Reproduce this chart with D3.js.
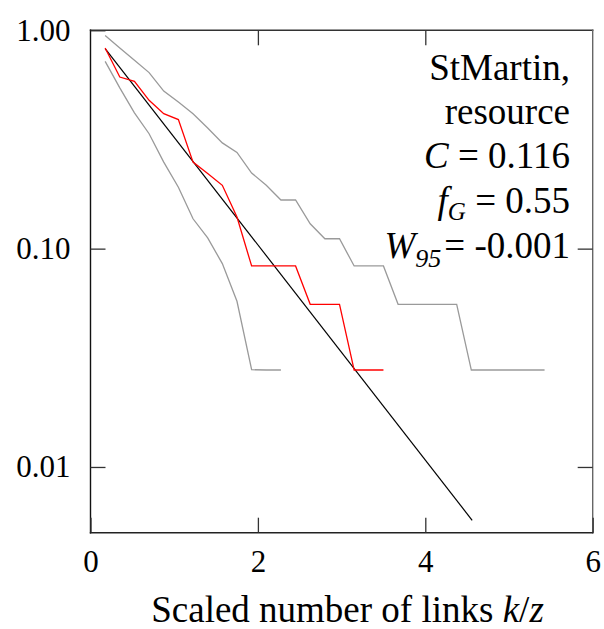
<!DOCTYPE html>
<html>
<head>
<meta charset="utf-8">
<script src="https://cdn.jsdelivr.net/npm/d3@7"></script>
</head>
<body style="margin:0;padding:0;background:#fff">
<svg id="chart" width="604" height="629" font-family="Liberation Serif"></svg>
<script>
// ---- data ----
const xTicks = [0, 2, 4, 6];
const yTicks = [0.01, 0.1, 1];

const upperX = [0.175,0.35,0.525,0.70,0.875,1.05,1.225,1.40,1.575,1.75,1.925,2.10,2.275,2.45,2.625,2.80,2.975,3.15,3.325,3.50,3.675,3.85,4.025,4.20,4.375,4.55,4.725,4.90,5.075,5.25,5.425];
const upperY = [0.946,0.83,0.73,0.640,0.527,0.469,0.415,0.357,0.305,0.276,0.222,0.195,0.167,0.167,0.13,0.111,0.111,0.0833,0.0833,0.0833,0.0556,0.0556,0.0556,0.0556,0.0556,0.0278,0.0278,0.0278,0.0278,0.0278,0.0278];

const lowerX = [0.175,0.35,0.525,0.70,0.875,1.05,1.225,1.40,1.575,1.75,1.925,2.10,2.275];
const lowerY = [0.721,0.545,0.419,0.336,0.249,0.191,0.137,0.112,0.0854,0.0574,0.0279,0.0278,0.0278];

const empX = [0.175,0.35,0.525,0.70,0.875,1.05,1.225,1.40,1.575,1.75,1.925,2.10,2.275,2.45,2.625,2.80,2.975,3.15,3.325,3.50];
const empY = [0.83,0.611,0.584,0.478,0.415,0.39,0.249,0.221,0.195,0.1395,0.0833,0.0833,0.0833,0.0833,0.0556,0.0556,0.0556,0.0278,0.0278,0.0278];

const fitX = [0.175, 4.56];
const fitY = [0.825, 0.0057];

// ---- layout ----
const FONT = "Liberation Serif";
const svg = d3.select("#chart");
const L = 90.5, R = 592.7, T = 30.3, B = 532.7;

const x = d3.scaleLinear().domain([0, 6]).range([L, R]);
const y = d3.scaleLog().domain([0.005, 1]).range([B, T]);

const line = d3.line().x(d => x(d[0])).y(d => y(d[1]));
const zip = (a, b) => a.map((v, i) => [v, b[i]]);

// curves
svg.append("path").datum(zip(upperX, upperY)).attr("d", line)
  .attr("fill", "none").attr("stroke", "#9a9a9a").attr("stroke-width", 1.3);
svg.append("path").datum(zip(lowerX, lowerY)).attr("d", line)
  .attr("fill", "none").attr("stroke", "#9a9a9a").attr("stroke-width", 1.3);
svg.append("path").datum(zip(fitX, fitY)).attr("d", line)
  .attr("fill", "none").attr("stroke", "#000").attr("stroke-width", 1.2);
svg.append("path").datum(zip(empX, empY)).attr("d", line)
  .attr("fill", "none").attr("stroke", "#ff0000").attr("stroke-width", 1.3);

// frame
const frame = svg.append("g").attr("stroke-width", 1.4).attr("stroke-linecap", "square");
frame.append("line").attr("x1", L).attr("x2", R).attr("y1", T).attr("y2", T).attr("stroke", "#333");
frame.append("line").attr("x1", R).attr("x2", R).attr("y1", T).attr("y2", B).attr("stroke", "#666");
frame.append("line").attr("x1", L).attr("x2", R).attr("y1", B).attr("y2", B).attr("stroke", "#222");
frame.append("line").attr("x1", L).attr("x2", L).attr("y1", T).attr("y2", B).attr("stroke", "#111");

// axes
const styleAxis = g => {
  g.attr("font-family", FONT).attr("font-size", 31);
  g.select(".domain").remove();
  g.selectAll(".tick line").attr("stroke", "#333").attr("stroke-width", 1.3);
  g.selectAll(".tick text").attr("font-family", FONT).attr("font-size", 31).attr("fill", "#000");
};

svg.append("g").attr("transform", `translate(0,${B})`)
  .call(d3.axisBottom(x).tickValues(xTicks).tickFormat(d3.format("d")).tickSizeInner(-15).tickSizeOuter(0).tickPadding(17))
  .call(styleAxis);

svg.append("g").attr("transform", `translate(0,${T})`)
  .call(d3.axisTop(x).tickValues([2, 4]).tickFormat("").tickSizeInner(-15).tickSizeOuter(0))
  .call(styleAxis);

svg.append("g").attr("transform", `translate(${L},0)`)
  .call(d3.axisLeft(y).tickValues(yTicks).tickFormat(d3.format(".2f")).tickSizeInner(-15).tickSizeOuter(0).tickPadding(20))
  .call(styleAxis);

svg.append("g").attr("transform", `translate(${R},0)`)
  .call(d3.axisRight(y).tickValues([0.01, 0.1]).tickFormat("").tickSizeInner(-15).tickSizeOuter(0))
  .call(styleAxis);

const addText = (xx, yy, size) => svg.append("text").attr("x", xx).attr("y", yy)
  .attr("text-anchor", "end").attr("font-family", FONT).attr("font-size", size).attr("fill", "#000");

// x-axis title
const xt = addText(347.5, 621.5, 37).attr("text-anchor", "middle");
xt.append("tspan").text("Scaled number of links ");
xt.append("tspan").attr("font-style", "italic").text("k");
xt.append("tspan").text("/");
xt.append("tspan").attr("font-style", "italic").text("z");

// annotation
const ax = 570, fs = 37;
addText(ax, 80, fs).text("StMartin,");
addText(ax, 123.5, fs).text("resource");

const t3 = addText(ax, 168, fs);
t3.append("tspan").attr("font-style", "italic").text("C");
t3.append("tspan").text(" = 0.116");

const t4 = addText(ax, 213, fs);
t4.append("tspan").attr("font-style", "italic").text("f");
t4.append("tspan").attr("font-style", "italic").attr("font-size", 25).attr("dy", 7).text("G");
t4.append("tspan").attr("dy", -7).text(" = 0.55");

const t5 = addText(ax, 258, fs);
t5.append("tspan").attr("font-style", "italic").text("W");
t5.append("tspan").attr("font-style", "italic").attr("font-size", 26).attr("dy", 9).text("95");
t5.append("tspan").attr("dy", -9).attr("dx", 3).text("= -0.001");
</script>
</body>
</html>
